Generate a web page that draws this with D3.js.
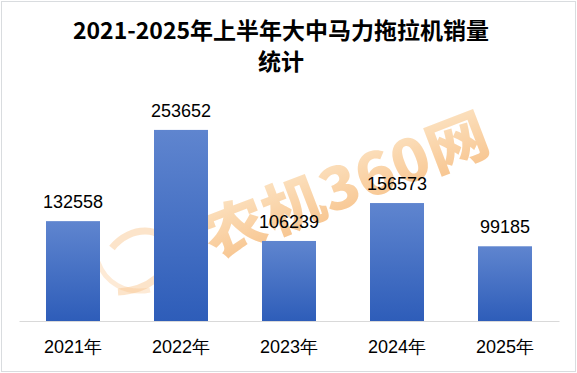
<!DOCTYPE html>
<html><head><meta charset="utf-8">
<script src="https://cdn.jsdelivr.net/npm/d3@7"></script>
<style>html,body{margin:0;padding:0;background:#fff;}svg{display:block;}</style>
</head><body>
<script>
const categories = ["2021年","2022年","2023年","2024年","2025年"];
const sales = [132558, 253652, 106239, 156573, 99185];
const titleLines = ["2021-2025年上半年大中马力拖拉机销量","统计"];
const watermark = "农机360网";

const W = 577, H = 373;
const svg = d3.select("body").append("svg").attr("width", W).attr("height", H);

const defs = svg.append("defs");
const grad = defs.append("linearGradient").attr("id","barGrad").attr("x1",0).attr("y1",0).attr("x2",0).attr("y2",1);
grad.append("stop").attr("offset","0%").attr("stop-color","#5f85cf");
grad.append("stop").attr("offset","100%").attr("stop-color","#2e5db9");
const wg = defs.append("linearGradient").attr("id","wmGrad").attr("x1",0).attr("y1",0).attr("x2",0).attr("y2",1);
wg.append("stop").attr("offset","0%").attr("stop-color","#fcd9a8");
wg.append("stop").attr("offset","100%").attr("stop-color","#f39a3e");

svg.append("rect").attr("x",1.5).attr("y",1.5).attr("width",W-3).attr("height",H-3)
  .attr("fill","#fff").attr("stroke","#d9dcdf").attr("stroke-width",1);

// title
svg.append("g").selectAll("text").data(titleLines).join("text")
  .attr("x",281).attr("y",(d,i)=>39+i*31)
  .attr("text-anchor","middle")
  .attr("font-family","'Noto Sans CJK SC','Noto Sans',sans-serif")
  .attr("font-weight","bold").attr("font-size",23).attr("fill","#000")
  .text(d=>d);

const margin = {left:19, right:18, top:95, bottom:52};
const x = d3.scaleBand().domain(categories).range([margin.left, W-margin.right]).paddingInner(0.5).paddingOuter(0.25);
const y = d3.scaleLinear().domain([0,300000]).range([H-margin.bottom, margin.top]);

// watermark (behind bars)
const wm = svg.append("g").attr("opacity",0.6).attr("transform","translate(348,190) rotate(-21)");
wm.append("text").attr("x",0).attr("y",0).attr("text-anchor","middle").attr("dominant-baseline","middle")
  .attr("font-family","'Noto Sans CJK SC',sans-serif").attr("font-weight",900).attr("font-size",58)
  .attr("textLength",300).attr("lengthAdjust","spacingAndGlyphs")
  .attr("fill","url(#wmGrad)").text(watermark);
svg.append("path").attr("d","M112,248 C130,225 165,225 168,250 C170,272 150,290 118,292")
  .attr("fill","none").attr("stroke","#f8c48a").attr("stroke-width",7).attr("opacity",0.45);
svg.append("path").attr("d","M98,262 C105,282 125,295 150,290")
  .attr("fill","none").attr("stroke","#f8c48a").attr("stroke-width",5).attr("opacity",0.35);

// axis
const xAxis = d3.axisBottom(x).tickSize(0).tickPadding(19);
const ax = svg.append("g").attr("transform",`translate(0,${y(0)})`).call(xAxis);
ax.select(".domain").attr("stroke","#d9d9d9").attr("stroke-width",1);
ax.selectAll("text").attr("font-family","'Liberation Sans',Arial,sans-serif").attr("font-size",18).attr("fill","#000");

// bars
svg.append("g").selectAll("rect").data(sales).join("rect")
  .attr("x",(d,i)=>x(categories[i])).attr("width",x.bandwidth())
  .attr("y",d=>y(d)).attr("height",d=>y(0)-y(d))
  .attr("fill","url(#barGrad)");

// labels
svg.append("g").selectAll("text").data(sales).join("text")
  .attr("x",(d,i)=>x(categories[i])+x.bandwidth()/2)
  .attr("y",d=>y(d)-13)
  .attr("text-anchor","middle")
  .attr("font-family","'Liberation Sans',Arial,sans-serif").attr("font-size",18).attr("fill","#000")
  .text(d=>d);
</script>
</body></html>
